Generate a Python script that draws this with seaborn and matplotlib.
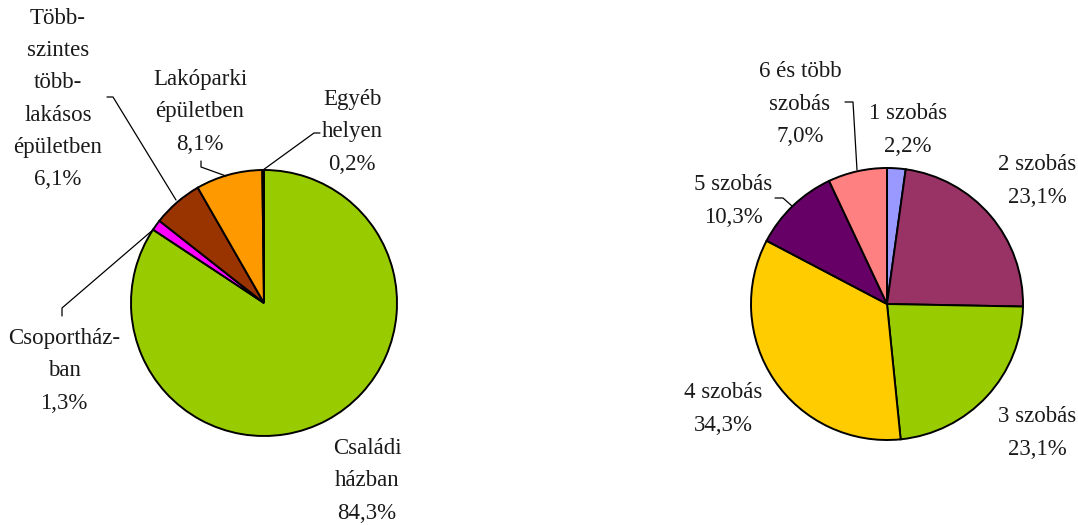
import matplotlib
matplotlib.use("Agg")
import matplotlib.pyplot as plt
import seaborn as sns

# ---- data ----
left_labels = ["Családi\nházban", "Csoportház-\nban", "Több-\nszintes\ntöbb-\nlakásos\népületben",
               "Lakóparki\népületben", "Egyéb\nhelyen"]
left_values = [84.3, 1.3, 6.1, 8.1, 0.2]
left_colors = ["#99CC00", "#FF00FF", "#993300", "#FF9900", "#000000"]

right_labels = ["1 szobás", "2 szobás", "3 szobás", "4 szobás", "5 szobás", "6 és több\nszobás"]
right_values = [2.2, 23.1, 23.1, 34.3, 10.3, 7.0]
right_colors = ["#9999FF", "#993366", "#99CC00", "#FFCC00", "#660066", "#FF8080"]

sns.set_theme(style="white")
plt.rcParams["font.family"] = ["Liberation Serif", "DejaVu Serif"]

W, H = 1078, 525
fig = plt.figure(figsize=(W / 100, H / 100), dpi=100)
ax = fig.add_axes([0, 0, 1, 1])


def P(x, y):
    return (x, H - y)


def fmt(v):
    return f"{v:.1f}".replace(".", ",") + "%"


wedge_kw = dict(edgecolor="black", linewidth=1.4)
ax.pie(left_values, colors=left_colors, startangle=90, counterclock=False,
       center=P(264, 303), radius=133, wedgeprops=wedge_kw, frame=True)
ax.pie(right_values, colors=right_colors, startangle=90, counterclock=False,
       center=P(887, 304), radius=136, wedgeprops=wedge_kw, frame=True)

ax.set_xlim(0, W)
ax.set_ylim(0, H)
ax.set_aspect("equal")
ax.axis("off")

tkw = dict(ha="center", va="center", fontsize=16.5, color="#1a1a1a", linespacing=1.7)

# left label positions (pixel centres)
left_pos = [(367, 481), (64, 371), (58, 99), (200, 112), (352, 132)]
for lab, v, (x, y) in zip(left_labels, left_values, left_pos):
    ax.text(*P(x, y), f"{lab}\n{fmt(v)}", **tkw)

right_pos = [(908, 130), (1037, 181), (1037, 433), (723, 409), (733, 201), (800, 104)]
for lab, v, (x, y) in zip(right_labels, right_values, right_pos):
    ax.text(*P(x, y), f"{lab}\n{fmt(v)}", **tkw)

# leader lines
leaders = [
    [(107, 97), (113, 97), (176, 200)],
    [(201, 161), (201, 167), (226, 176)],
    [(320, 133), (314, 133), (263, 170)],
    [(62, 316), (62, 308), (154, 229)],
    [(845, 102), (853, 102), (857, 170)],
    [(775, 198), (783, 198), (792, 206)],
]
for pts in leaders:
    xs = [p[0] for p in pts]
    ys = [H - p[1] for p in pts]
    ax.plot(xs, ys, color="black", linewidth=0.9)

fig.savefig("out.png", dpi=100, facecolor="white")
